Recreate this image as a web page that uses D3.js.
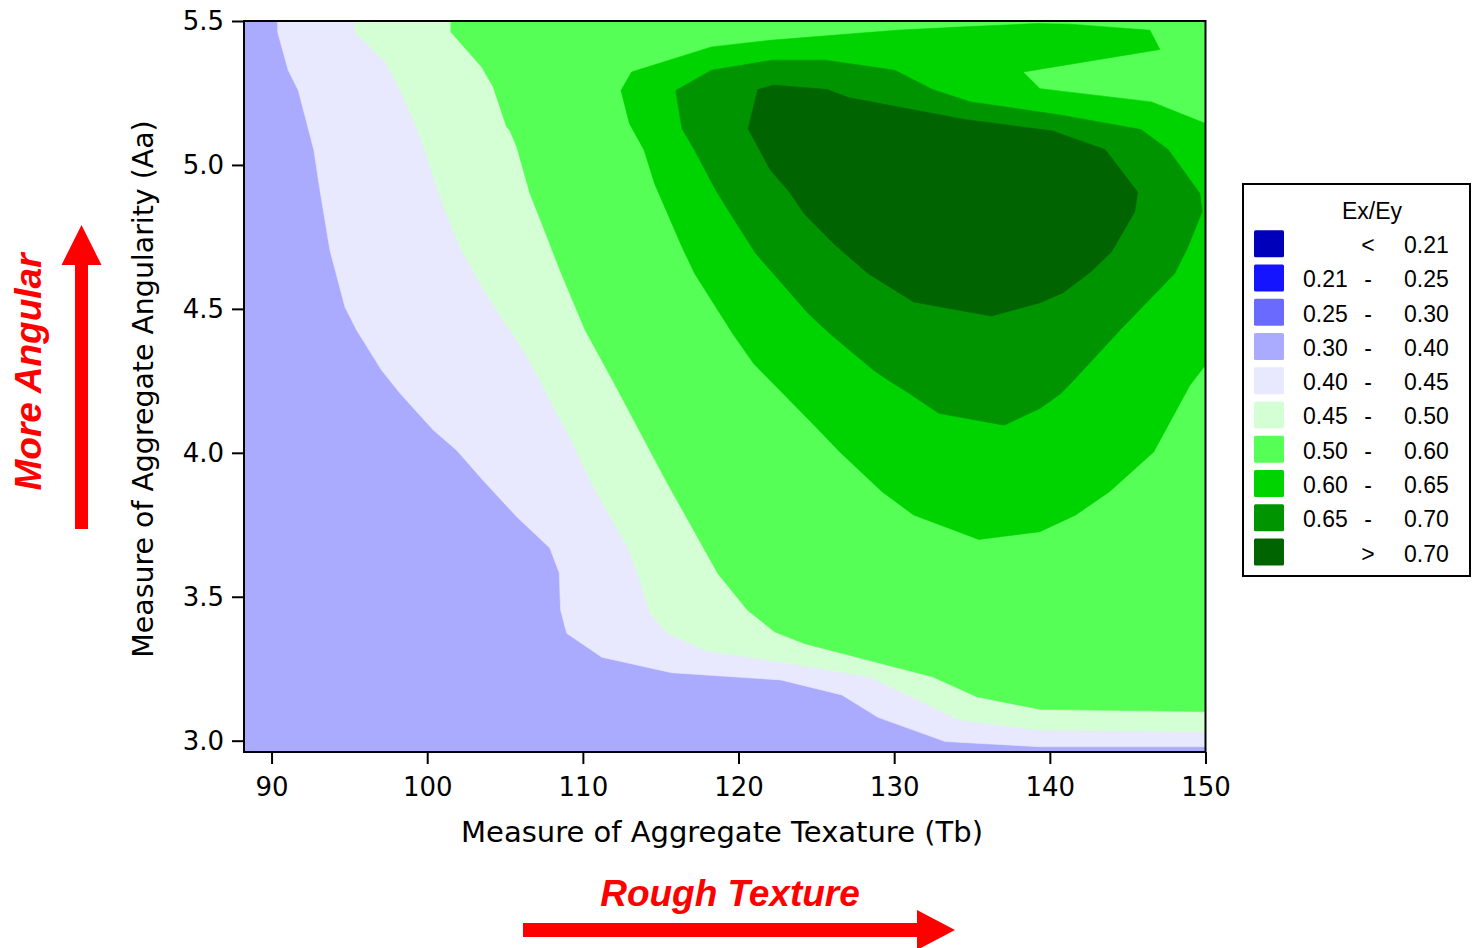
<!DOCTYPE html>
<html><head><meta charset="utf-8">
<script src="https://cdn.jsdelivr.net/npm/d3@7/dist/d3.min.js"></script>
<style>body{margin:0;background:#fff}svg{display:block}</style>
</head><body>
<svg id="chart" width="1472" height="948"></svg>
<script>
// ---------- data ----------
const xTicks = [90, 100, 110, 120, 130, 140, 150];
const yTicks = [3.0, 3.5, 4.0, 4.5, 5.0, 5.5];
const legendTitle = "Ex/Ey";
const legendLow  = ["", "0.21", "0.25", "0.30", "0.40", "0.45", "0.50", "0.60", "0.65", ""];
const legendSep  = ["<", "-", "-", "-", "-", "-", "-", "-", "-", ">"];
const legendHigh = ["0.21", "0.25", "0.30", "0.40", "0.45", "0.50", "0.60", "0.65", "0.70", "0.70"];
const levelColors = ["#0000BB", "#1414FF", "#6A6AFF", "#AAAAFF", "#E8E8FF", "#D4FFD4", "#55FF55", "#00D400", "#009400", "#006400"];

// contour boundaries, [Tb, Aa]
const edge040 = [[90.39,5.5],[90.39,5.462],[91.07,5.329],[91.72,5.259],[92.72,5.051],[93.11,4.912],[93.43,4.808],[93.75,4.704],[94.72,4.506],[95.47,4.426],[97.07,4.287],[98.25,4.207],[100.39,4.079],[101.89,4.009],[103.58,3.905],[105.75,3.778],[107.88,3.669],[108.48,3.583],[108.57,3.454],[108.96,3.373],[111.22,3.290],[115.70,3.236],[122.72,3.211],[126.64,3.159],[128.96,3.081],[133.28,2.997],[139.36,2.979],[150,2.979]];
const edge045 = [[95.36,5.5],[95.36,5.462],[97.39,5.352],[98.36,5.248],[99.32,5.132],[100.07,5.016],[100.61,4.924],[101.14,4.843],[102.10,4.715],[103.39,4.588],[104.88,4.461],[106.17,4.357],[107.24,4.252],[108.21,4.148],[109.17,4.055],[110.56,3.894],[112.86,3.674],[113.53,3.581],[114.34,3.442],[115.43,3.373],[117.86,3.313],[122.60,3.274],[128.41,3.222],[134.22,3.072],[139.23,3.037],[150,3.031]];
const edge050 = [[101.52,5.5],[101.52,5.462],[103.50,5.340],[104.24,5.271],[105.10,5.132],[105.31,5.120],[105.75,5.063],[106.60,4.901],[107.45,4.785],[108.53,4.634],[110.15,4.426],[111.91,4.252],[112.59,4.183],[115.43,3.894],[116.51,3.790],[118.67,3.581],[120.57,3.454],[122.32,3.378],[124.21,3.338],[132.46,3.222],[135.30,3.153],[139.36,3.109],[150,3.101]];
const ring060 = [[150,5.144],[146.53,5.219],[139.36,5.265],[138.28,5.323],[147.07,5.401],[146.43,5.468],[141.29,5.489],[139.15,5.491],[134.22,5.479],[130.16,5.468],[122.05,5.433],[118.27,5.410],[113.13,5.323],[112.45,5.259],[112.99,5.144],[113.94,5.051],[114.61,4.935],[116.37,4.715],[117.18,4.623],[119.61,4.415],[120.97,4.310],[122.02,4.252],[124.75,4.102],[126.51,4.003],[129.22,3.865],[131.25,3.784],[135.44,3.699],[139.36,3.726],[141.66,3.784],[143.83,3.865],[146.67,4.003],[149.00,4.235],[150,4.305]];
const ring065 = [[115.97,5.259],[118.27,5.329],[122.18,5.364],[125.57,5.364],[130.03,5.329],[132.46,5.262],[134.90,5.219],[140.71,5.173],[145.85,5.123],[147.61,5.053],[149.64,4.901],[149.78,4.837],[148.83,4.710],[148.02,4.623],[144.50,4.426],[141.53,4.252],[140.71,4.206],[139.36,4.154],[137.06,4.096],[132.87,4.137],[130.98,4.206],[129.62,4.252],[128.68,4.287],[125.84,4.415],[124.48,4.484],[121.11,4.692],[119.61,4.819],[118.54,4.912],[117.18,5.051],[116.37,5.126]];
const ring070 = [[120.62,5.126],[121.24,5.262],[122.27,5.277],[125.70,5.262],[127.05,5.234],[134.49,5.158],[140.17,5.118],[143.56,5.053],[145.64,4.906],[145.45,4.837],[143.96,4.698],[142.61,4.628],[140.85,4.556],[139.36,4.521],[136.25,4.475],[131.25,4.524],[128.27,4.625],[126.11,4.727],[124.21,4.831],[123.27,4.906],[122.05,4.982]];

// ---------- layout ----------
const svg = d3.select("#chart");
const x = d3.scaleLinear().domain([88.23, 150]).range([244, 1205.5]);
const y = d3.scaleLinear().domain([2.9607, 5.5]).range([752, 21]);
const [x0, x1] = x.domain(), [y0, y1] = y.domain();

svg.append("defs").append("clipPath").attr("id", "plotClip")
  .append("rect").attr("x", x(x0)).attr("y", y(y1))
  .attr("width", x(x1) - x(x0)).attr("height", y(y0) - y(y1));

const line = d3.line().x(d => x(d[0])).y(d => y(d[1]));
const plot = svg.append("g").attr("clip-path", "url(#plotClip)");

// base band 0.30-0.40 covering the plot
plot.append("path").attr("d", line([[x0, y0], [x1, y0], [x1, y1], [x0, y1]]) + "Z").attr("fill", levelColors[3]);
const bands = [
  { pts: edge040.concat([[x1, y1]]), c: levelColors[4] },
  { pts: edge045.concat([[x1, y1]]), c: levelColors[5] },
  { pts: edge050.concat([[x1, y1]]), c: levelColors[6] },
  { pts: ring060, c: levelColors[7] },
  { pts: ring065, c: levelColors[8] },
  { pts: ring070, c: levelColors[9] }
];
plot.selectAll("path.band").data(bands).join("path").attr("class", "band")
  .attr("d", d => line(d.pts) + "Z").attr("fill", d => d.c)
  .attr("stroke", d => d.c).attr("stroke-width", 0.6);

// frame
svg.append("rect").attr("x", x(x0)).attr("y", y(y1))
  .attr("width", x(x1) - x(x0)).attr("height", y(y0) - y(y1))
  .attr("fill", "none").attr("stroke", "#000").attr("stroke-width", 2);

// axes
const tickFont = "'DejaVu Sans', Verdana, sans-serif";
const gx = svg.append("g").attr("transform", `translate(0,${y(y0)})`)
  .call(d3.axisBottom(x).tickValues(xTicks).tickFormat(d3.format("d")).tickSize(12).tickPadding(14));
const gy = svg.append("g").attr("transform", `translate(${x(x0)},0)`)
  .call(d3.axisLeft(y).tickValues(yTicks).tickFormat(d3.format(".1f")).tickSize(12).tickPadding(8));
[gx, gy].forEach(g => {
  g.select(".domain").remove();
  g.selectAll(".tick line").attr("stroke", "#000").attr("stroke-width", 2);
  g.selectAll(".tick text").attr("fill", "#000").style("font-family", tickFont).style("font-size", "26px");
});

// axis titles
svg.append("text").attr("x", 722).attr("y", 842).attr("text-anchor", "middle")
  .style("font-family", tickFont).style("font-size", "29px").attr("fill", "#000")
  .text("Measure of Aggregate Texature (Tb)");
svg.append("text").attr("transform", "translate(153,389) rotate(-90)").attr("text-anchor", "middle")
  .style("font-family", tickFont).style("font-size", "28.4px").attr("fill", "#000")
  .text("Measure of Aggregate Angularity (Aa)");

// red annotations
const redFont = "'Liberation Sans', Arial, sans-serif";
svg.append("text").attr("x", 730).attr("y", 906).attr("text-anchor", "middle")
  .style("font-family", redFont).style("font-size", "37px").style("font-weight", "bold").style("font-style", "italic")
  .attr("fill", "#FF0000").text("Rough Texture");
svg.append("path").attr("d", "M523,923 L917,923 L917,910 L955,930 L917,950 L917,937 L523,937 Z").attr("fill", "#FF0000");
svg.append("text").attr("transform", "translate(41,372) rotate(-90)").attr("text-anchor", "middle")
  .style("font-family", redFont).style("font-size", "37px").style("font-weight", "bold").style("font-style", "italic")
  .attr("fill", "#FF0000").text("More Angular");
svg.append("path").attr("d", "M75,529 L75,265 L61.5,265 L81.5,225 L101.5,265 L88,265 L88,529 Z").attr("fill", "#FF0000");

// legend
const lg = svg.append("g");
lg.append("rect").attr("x", 1243).attr("y", 184).attr("width", 227).attr("height", 392)
  .attr("fill", "#fff").attr("stroke", "#000").attr("stroke-width", 2);
const legFont = "'Liberation Sans', Arial, sans-serif";
lg.append("text").attr("x", 1372).attr("y", 219).attr("text-anchor", "middle")
  .style("font-family", legFont).style("font-size", "23px").attr("fill", "#000").text(legendTitle);
const rowY = d3.scaleLinear().domain([0, 9]).range([243.7, 552]);
const rows = lg.selectAll("g.row").data(levelColors).join("g").attr("class", "row")
  .attr("transform", (d, i) => `translate(0,${rowY(i)})`);
rows.append("rect").attr("x", 1254).attr("y", -13.5).attr("width", 30).attr("height", 27).attr("rx", 1.5)
  .attr("fill", d => d);
rows.append("text").attr("x", 1303).attr("y", 9.5).style("font-family", legFont).style("font-size", "23px")
  .attr("fill", "#000").text((d, i) => legendLow[i]);
rows.append("text").attr("x", 1368).attr("y", 9.5).attr("text-anchor", "middle").style("font-family", legFont).style("font-size", "23px")
  .attr("fill", "#000").text((d, i) => legendSep[i]);
rows.append("text").attr("x", 1404).attr("y", 9.5).style("font-family", legFont).style("font-size", "23px")
  .attr("fill", "#000").text((d, i) => legendHigh[i]);
</script>
</body></html>
